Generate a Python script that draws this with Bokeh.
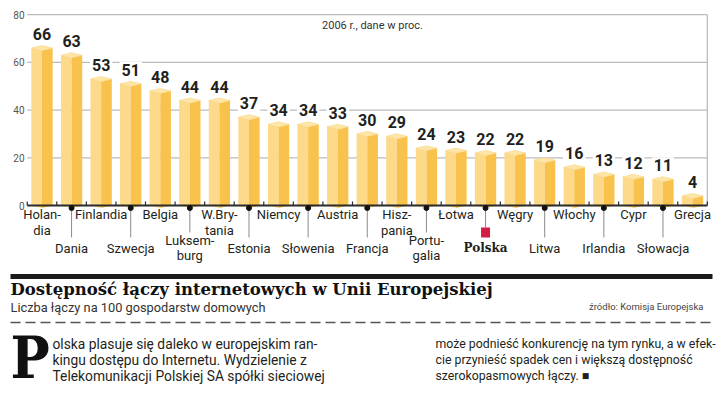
from bokeh.plotting import figure
from bokeh.models import Range1d
from bokeh.core.properties import value
from bokeh.embed import file_html
from bokeh.resources import INLINE

# ---------------- data ----------------
countries = ["Holandia", "Dania", "Finlandia", "Szwecja", "Belgia", "Luksemburg",
             "W.Brytania", "Estonia", "Niemcy", "Słowenia", "Austria", "Francja",
             "Hiszpania", "Portugalia", "Łotwa", "Polska", "Węgry", "Litwa",
             "Włochy", "Irlandia", "Cypr", "Słowacja", "Grecja"]
axis_labels = ["Holan-\ndia", "Dania", "Finlandia", "Szwecja", "Belgia", "Luksem-\nburg",
               "W.Bry-\ntania", "Estonia", "Niemcy", "Słowenia", "Austria", "Francja",
               "Hisz-\npania", "Portu-\ngalia", "Łotwa", "Polska", "Węgry", "Litwa",
               "Włochy", "Irlandia", "Cypr", "Słowacja", "Grecja"]
values = [66, 63, 53, 51, 48, 44, 44, 37, 34, 34, 33, 30, 29, 24, 23, 22, 22, 19, 16, 13, 12, 11, 4]
y_ticks = [0, 20, 40, 60, 80]
y_tick_labels = ["0", "20", "40", "60", "80"]
highlight = "Polska"

note = "2006 r., dane w proc."
title = "Dostępność łączy internetowych w Unii Europejskiej"
subtitle = "Liczba łączy na 100 gospodarstw domowych"
source_txt = "źródło: Komisja Europejska"
body_left = ["olska plasuje się daleko w europejskim ran-",
             "kingu dostępu do Internetu. Wydzielenie z",
             "Telekomunikacji Polskiej SA spółki sieciowej"]
body_right = ["może podnieść konkurencję na tym rynku, a w efek-",
              "cie przynieść spadek cen i większą dostępność",
              "szerokopasmowych łączy. ■"]
drop_cap = "P"

# ---------------- layout ----------------
W, H = 720, 394
REF_X0, STEP = 41.5, 29.57      # page px of first bar centre, px per bar
REF_Y0, PXU = 205.0, 2.385      # page px of value 0, px per unit


def X(px):
    return (px - REF_X0) / STEP


def Y(py):
    return (REF_Y0 - py) / PXU


p = figure(width=W, height=H, output_backend="svg", toolbar_location=None,
           x_range=Range1d(X(0), X(W)),
           y_range=Range1d(Y(H), Y(0)),
           x_axis_type=None, y_axis_type=None,
           min_border=0, min_border_left=0, min_border_right=0,
           min_border_top=0, min_border_bottom=0)
p.outline_line_color = None
p.grid.visible = False
p.background_fill_color = "white"
p.border_fill_color = "white"

n = len(values)
idx = list(range(n))
x_lo, x_hi = -0.5, n - 0.5

SANS = value("Roboto")
DARK = "#231f20"

# grid lines (20..80) and right frame line
grid_y = [t for t in y_ticks if t > 0]
p.segment(x0=[x_lo] * len(grid_y), x1=[x_hi] * len(grid_y), y0=grid_y, y1=grid_y,
          line_color="#bcbcbc", line_width=1.3)
p.segment(x0=[x_hi], x1=[x_hi], y0=[0], y1=[max(y_ticks)], line_color="#bcbcbc", line_width=1.3)

# y tick labels
p.text(x=[X(24)] * len(y_ticks), y=y_ticks, text=y_tick_labels, text_align="right",
       text_baseline="middle", text_font=SANS, text_font_size="10px", text_color="#555555")

# 3D bars
hw = 0.36
d = 2.6 / PXU
left_xs, left_ys, right_xs, right_ys, top_xs, top_ys = [], [], [], [], [], []
for i, v in zip(idx, values):
    left_xs.append([i - hw, i, i, i - hw]); left_ys.append([0, -d, v - d, v])
    right_xs.append([i, i + hw, i + hw, i]); right_ys.append([-d, 0, v, v - d])
    top_xs.append([i - hw, i, i + hw, i]); top_ys.append([v, v - d, v, v + d])
p.patches(left_xs, left_ys, fill_color="#fdd98a", line_color=None)
p.patches(right_xs, right_ys, fill_color="#f8c24c", line_color=None)
p.patches(top_xs, top_ys, fill_color="#fee6a6", line_color="#f6cf78", line_width=0.5)

# baseline and ticks
p.segment(x0=[x_lo], x1=[x_hi], y0=[0], y1=[0], line_color="#2b2b2b", line_width=2)
tick_x = [i - 0.5 for i in range(n + 1)]
p.segment(x0=tick_x, x1=tick_x, y0=[0] * len(tick_x), y1=[4 / PXU] * len(tick_x),
          line_color="#2b2b2b", line_width=1.2)

# value labels
p.text(x=idx, y=values, text=[str(v) for v in values], y_offset=-14,
       text_align="center", text_baseline="middle", text_font=SANS,
       text_font_size="16px", text_font_style="bold", text_color=DARK,
       background_fill_color="white", padding=2)

# category labels: even index above, odd index below with leaders
up = [i for i in idx if i % 2 == 0]
lo = [i for i in idx if i % 2 == 1]
p.text(x=up, y=[Y(206)] * len(up), text=[axis_labels[i] for i in up],
       text_align="center", text_baseline="top", text_font=SANS, text_font_size="13px",
       text_color=DARK, text_line_height=1.1)

lo_plain = [i for i in lo if countries[i] != highlight]
hl = [i for i in lo if countries[i] == highlight]
p.text(x=lo_plain, y=[Y(247.5)] * len(lo_plain), text=[axis_labels[i] for i in lo_plain],
       text_align="center", text_baseline="middle", text_font=SANS, text_font_size="13px",
       text_color=DARK, text_line_height=1.0)
p.text(x=hl, y=[Y(247.5)] * len(hl), text=[axis_labels[i] for i in hl],
       text_align="center", text_baseline="middle", text_font=value("DejaVu Serif"),
       text_font_size="12px", text_font_style="bold", text_color=DARK)

lead_end = []
for i in lo:
    if countries[i] == highlight:
        lead_end.append(Y(227))
    elif "\n" in axis_labels[i]:
        lead_end.append(Y(232))
    else:
        lead_end.append(Y(237))
p.segment(x0=lo, x1=lo, y0=[Y(207)] * len(lo), y1=lead_end, line_color="#8a8a8a", line_width=1)
p.scatter(x=lo, y=[Y(207.5)] * len(lo), size=5, color="#111111")
p.rect(x=hl, y=[Y(232)] * len(hl), width=9, height=10, width_units="screen",
       height_units="screen", fill_color="#d31d45", line_color=None)

# note in chart
p.text(x=[X(372)], y=[Y(25)], text=[note], text_align="center", text_baseline="middle",
       text_font=SANS, text_font_size="11px", text_color="#333333")

# ---------------- title block ----------------
p.segment(x0=[X(10)], x1=[X(712)], y0=[Y(276)], y1=[Y(276)], line_color="#1a1a1a", line_width=5)
p.text(x=[X(10)], y=[Y(289)], text=[title], text_align="left", text_baseline="middle",
       text_font=value("DejaVu Serif"), text_font_size="16.5px", text_font_style="bold",
       text_color="#111111")
p.text(x=[X(10)], y=[Y(307)], text=[subtitle], text_align="left", text_baseline="middle",
       text_font=SANS, text_font_size="12.8px", text_color="#333333")
p.text(x=[X(703)], y=[Y(306)], text=[source_txt], text_align="right", text_baseline="middle",
       text_font=SANS, text_font_size="9.5px", text_color="#444444")
p.segment(x0=[X(10)], x1=[X(712)], y0=[Y(322)], y1=[Y(322)], line_color="#555555",
          line_width=1.3, line_dash="10 5")

# body text
line_y = [Y(343), Y(359), Y(375)]
p.text(x=[X(52)] * 3, y=line_y, text=body_left, text_align="left", text_baseline="middle",
       text_font=SANS, text_font_size="13.8px", text_color=DARK)
p.text(x=[X(435)] * 3, y=line_y, text=body_right, text_align="left", text_baseline="middle",
       text_font=SANS, text_font_size="12.3px", text_color=DARK)
p.text(x=[X(10)], y=[Y(357)], text=[drop_cap], text_align="left", text_baseline="middle",
       text_font=value("DejaVu Serif Condensed"), text_font_size="58px", text_font_style="bold",
       text_color="#111111")

open("out.html", "w").write(file_html(p, INLINE))
